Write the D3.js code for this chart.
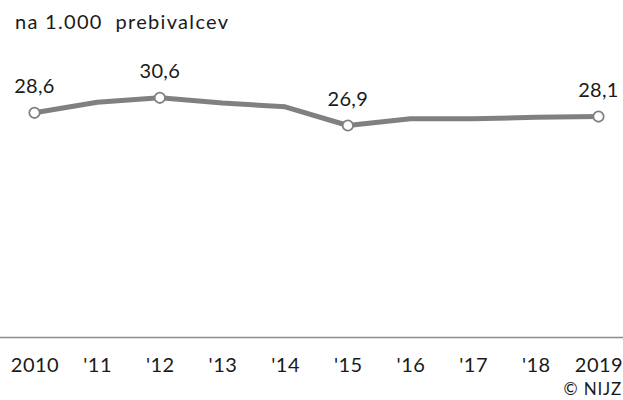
<!DOCTYPE html>
<html>
<head>
<meta charset="utf-8">
<script src="https://cdn.jsdelivr.net/npm/d3@7"></script>
<style>
  html, body { margin: 0; padding: 0; background: #fff; }
  svg { display: block; font-family: Lato, "Open Sans", sans-serif; }
</style>
</head>
<body>
<svg id="chart" width="623" height="400"></svg>
<script>
const years = [2010, 2011, 2012, 2013, 2014, 2015, 2016, 2017, 2018, 2019];
const values = [28.6, 30.0, 30.6, 29.9, 29.4, 26.9, 27.8, 27.8, 28.0, 28.1];
const tickLabels = ["2010", "'11", "'12", "'13", "'14", "'15", "'16", "'17", "'18", "2019"];
const labelledYears = [2010, 2012, 2015, 2019];
const unitLabel = "na 1.000\u00a0\u00a0prebivalcev";
const sourceLabel = "© NIJZ";

const svg = d3.select("#chart");
const W = 623, H = 400;
const FONT = 20;
const TXT = "#1a1a1a";

const x = d3.scaleLinear().domain([2010, 2019]).range([34.5, 598.5]);
const y = d3.scaleLinear().domain([0, 40]).range([327, 27.4]);

const data = years.map((yr, i) => ({ year: yr, value: values[i] }));
const fmt = v => d3.format(".1f")(v).replace(".", ",");

// unit label
svg.append("text")
  .attr("x", 15).attr("y", 29)
  .attr("font-size", FONT).attr("fill", TXT)
  .attr("letter-spacing", 1.3)
  .text(unitLabel);

// baseline
svg.append("line")
  .attr("x1", 0).attr("x2", W)
  .attr("y1", 337.5).attr("y2", 337.5)
  .attr("stroke", "#8c8c8c").attr("stroke-width", 1.5);

// x axis labels
const axis = d3.axisBottom(x)
  .tickValues(years)
  .tickFormat((d, i) => tickLabels[i])
  .tickSize(0)
  .tickPadding(0);
const gx = svg.append("g").attr("transform", "translate(0,337)").call(axis);
gx.select(".domain").remove();
gx.selectAll("text")
  .attr("y", 35).attr("dy", 0)
  .attr("font-size", FONT)
  .attr("letter-spacing", 0.5)
  .attr("font-family", "Lato, 'Open Sans', sans-serif")
  .attr("fill", TXT);

// line
const line = d3.line().x(d => x(d.year)).y(d => y(d.value));
svg.append("path")
  .datum(data)
  .attr("d", line)
  .attr("fill", "none")
  .attr("stroke", "#808080")
  .attr("stroke-width", 5)
  .attr("stroke-linejoin", "round");

const labelled = data.filter(d => labelledYears.includes(d.year));

svg.selectAll("circle.pt")
  .data(labelled)
  .join("circle")
  .attr("class", "pt")
  .attr("cx", d => x(d.year))
  .attr("cy", d => y(d.value))
  .attr("r", 5.2)
  .attr("fill", "#fff")
  .attr("stroke", "#808080")
  .attr("stroke-width", 1.8);

svg.selectAll("text.val")
  .data(labelled)
  .join("text")
  .attr("class", "val")
  .attr("x", d => x(d.year))
  .attr("y", d => y(d.value) - 20)
  .attr("text-anchor", "middle")
  .attr("font-size", FONT)
  .attr("letter-spacing", 0.3)
  .attr("fill", TXT)
  .text(d => fmt(d.value));

// source
svg.append("text")
  .attr("x", 622).attr("y", 395)
  .attr("text-anchor", "end")
  .attr("font-size", 17)
  .attr("letter-spacing", 0.8)
  .attr("fill", TXT)
  .text(sourceLabel);
</script>
</body>
</html>
